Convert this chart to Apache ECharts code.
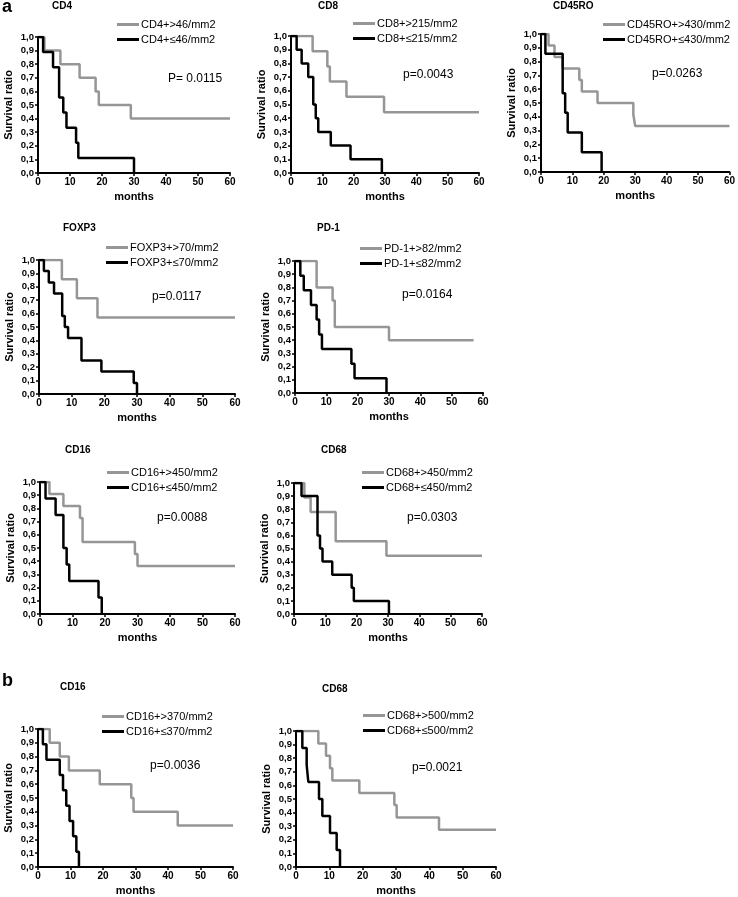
<!DOCTYPE html>
<html><head><meta charset="utf-8">
<script src="https://cdn.jsdelivr.net/npm/echarts@6/dist/echarts.min.js"></script>
<style>html,body{margin:0;padding:0;background:#fff}#c{width:738px;height:897px}</style>
</head><body><div id="c"></div>
<script>
// ---- data (months, survival ratio) ----
const xTicks = [0, 10, 20, 30, 40, 50, 60];

const cd4HiT = [0, 2, 7, 13, 18, 19, 29, 60];
const cd4HiS = [1, 0.9, 0.8, 0.7, 0.6, 0.5, 0.4, 0.4];
const cd4LoT = [0, 1.6, 4.7, 6.6, 7.9, 8.9, 11.9, 12.6, 30];
const cd4LoS = [1, 0.889, 0.778, 0.556, 0.444, 0.333, 0.222, 0.111, 0];

const cd8HiT = [0, 6.9, 11.6, 12.4, 17.7, 29.7, 60];
const cd8HiS = [1, 0.889, 0.778, 0.667, 0.556, 0.444, 0.444];
const cd8LoT = [0, 1.8, 3.4, 5.5, 7.1, 7.9, 8.7, 12.7, 19, 29];
const cd8LoS = [1, 0.9, 0.8, 0.7, 0.5, 0.4, 0.3, 0.2, 0.1, 0];

const cd45HiT = [0, 2.4, 4.3, 6.9, 12.2, 13, 18, 29.4, 30, 60];
const cd45HiS = [1, 0.917, 0.833, 0.75, 0.667, 0.583, 0.5, 0.417, 0.333, 0.333];
const cd45LoT = [0, 1.4, 6.9, 7.7, 8.5, 13, 19.3];
const cd45LoS = [1, 0.857, 0.571, 0.429, 0.286, 0.143, 0];

const foxHiT = [0, 7, 11.6, 17.9, 60];
const foxHiS = [1, 0.857, 0.714, 0.571, 0.571];
const foxLoT = [0, 1.5, 3, 4.6, 7.1, 7.9, 8.9, 13, 19.1, 29, 30];
const foxLoS = [1, 0.917, 0.833, 0.75, 0.583, 0.5, 0.417, 0.25, 0.167, 0.083, 0];

const pd1HiT = [0, 6.9, 12, 12.7, 30, 57];
const pd1HiS = [1, 0.8, 0.7, 0.5, 0.4, 0.4];
const pd1LoT = [0, 1.7, 2.8, 5.1, 6.9, 7.7, 8.6, 18, 19, 29.2];
const pd1LoS = [1, 0.889, 0.778, 0.667, 0.556, 0.444, 0.333, 0.222, 0.111, 0];

const cd16aHiT = [0, 2.9, 7.2, 12.3, 13.1, 29.2, 30, 60];
const cd16aHiS = [1, 0.909, 0.818, 0.727, 0.545, 0.455, 0.364, 0.364];
const cd16aLoT = [0, 1.7, 4.8, 7.2, 8.2, 9, 18, 19];
const cd16aLoS = [1, 0.875, 0.75, 0.5, 0.375, 0.25, 0.125, 0];

const cd68aHiT = [0, 3.3, 5.3, 13.3, 29.5, 60];
const cd68aHiS = [1, 0.889, 0.778, 0.556, 0.444, 0.444];
const cd68aLoT = [0, 2.4, 7.5, 8.3, 9.1, 12.2, 18.4, 19.1, 30.3];
const cd68aLoS = [1, 0.9, 0.6, 0.5, 0.4, 0.3, 0.2, 0.1, 0];

const cd16bHiT = [0, 3.6, 6.7, 9.5, 19, 28.7, 29.4, 43, 60];
const cd16bHiS = [1, 0.9, 0.8, 0.7, 0.6, 0.5, 0.4, 0.3, 0.3];
const cd16bLoT = [0, 1.5, 2.6, 6.7, 7.7, 8.7, 9.7, 10.8, 11.8, 12.6];
const cd16bLoS = [1, 0.889, 0.778, 0.667, 0.556, 0.444, 0.333, 0.222, 0.111, 0];

const cd68bHiT = [0, 6.7, 9, 10.2, 10.9, 19, 29.5, 30.2, 42.9, 60];
const cd68bHiS = [1, 0.909, 0.818, 0.727, 0.636, 0.545, 0.455, 0.364, 0.273, 0.273];
const cd68bLoT = [0, 1.9, 3.2, 3.7, 6.9, 7.9, 10.2, 12.2, 13.2];
const cd68bLoS = [1, 0.875, 0.75, 0.625, 0.5, 0.375, 0.25, 0.125, 0];

const titles = ['CD4', 'CD8', 'CD45RO', 'FOXP3', 'PD-1', 'CD16', 'CD68', 'CD16', 'CD68'];
const hiNames = ['CD4+>46/mm2', 'CD8+>215/mm2', 'CD45RO+>430/mm2', 'FOXP3+>70/mm2', 'PD-1+>82/mm2',
  'CD16+>450/mm2', 'CD68+>450/mm2', 'CD16+>370/mm2', 'CD68+>500/mm2'];
const loNames = ['CD4+≤46/mm2', 'CD8+≤215/mm2', 'CD45RO+≤430/mm2', 'FOXP3+≤70/mm2', 'PD-1+≤82/mm2',
  'CD16+≤450/mm2', 'CD68+≤450/mm2', 'CD16+≤370/mm2', 'CD68+≤500/mm2'];
const pValues = ['P= 0.0115', 'p=0.0043', 'p=0.0263', 'p=0.0117', 'p=0.0164', 'p=0.0088', 'p=0.0303', 'p=0.0036', 'p=0.0021'];

const hiT = [cd4HiT, cd8HiT, cd45HiT, foxHiT, pd1HiT, cd16aHiT, cd68aHiT, cd16bHiT, cd68bHiT];
const hiS = [cd4HiS, cd8HiS, cd45HiS, foxHiS, pd1HiS, cd16aHiS, cd68aHiS, cd16bHiS, cd68bHiS];
const loT = [cd4LoT, cd8LoT, cd45LoT, foxLoT, pd1LoT, cd16aLoT, cd68aLoT, cd16bLoT, cd68bLoT];
const loS = [cd4LoS, cd8LoS, cd45LoS, foxLoS, pd1LoS, cd16aLoS, cd68aLoS, cd16bLoS, cd68bLoS];

// ---- layout ----
const L = [
  {g:[38,37,192,136],  t:[52,1],   lg:[117,19],  p:[168,73]},
  {g:[291,36,188,137], t:[318,1],  lg:[353,18],  p:[403,69]},
  {g:[541,34,189,138], t:[553,1],  lg:[603,19],  p:[652,68]},
  {g:[39,260,196,134], t:[63,223], lg:[106,242], p:[152,291]},
  {g:[295,261,188,132],t:[317,223],lg:[360,243], p:[402,289]},
  {g:[40,482,195,132], t:[65,445], lg:[107,467], p:[157,512]},
  {g:[294,483,188,131],t:[321,445],lg:[362,467], p:[407,512]},
  {g:[38,729,195,138], t:[60,682], lg:[102,711], p:[150,760]},
  {g:[296,731,200,137],t:[322,684],lg:[363,710], p:[412,762]}
];

const FONT = 'Liberation Sans, Arial, Helvetica, sans-serif';
const GRAY = '#969696';
const grid = [], xAxis = [], yAxis = [], series = [], title = [], legend = [], graphic = [];

L.forEach((l, i) => {
  grid.push({left: l.g[0], top: l.g[1], width: l.g[2], height: l.g[3]});
  xAxis.push({
    gridIndex: i, type: 'value', min: xTicks[0], max: xTicks[xTicks.length - 1], interval: 10,
    axisLine: {show: true, onZero: false, lineStyle: {color: '#000', width: 2}},
    axisTick: {show: true, length: 3, lineStyle: {color: '#000', width: 1.5}},
    axisLabel: {color: '#000', fontSize: 10, fontWeight: 'bold', fontFamily: FONT, margin: 4},
    splitLine: {show: false},
    name: 'months', nameLocation: 'middle', nameGap: 18,
    nameTextStyle: {color: '#000', fontSize: 11, fontWeight: 'bold', fontFamily: FONT}
  });
  yAxis.push({
    gridIndex: i, type: 'value', min: 0, max: 1, interval: 0.1,
    axisLine: {show: true, onZero: false, lineStyle: {color: '#000', width: 2}},
    axisTick: {show: true, length: 3, lineStyle: {color: '#000', width: 1.5}},
    axisLabel: {color: '#000', fontSize: 9.5, fontWeight: 'bold', fontFamily: FONT, margin: 4,
      formatter: v => v.toFixed(1).replace('.', ',')},
    splitLine: {show: false},
    name: 'Survival ratio', nameLocation: 'middle', nameGap: 24, nameRotate: 90,
    nameTextStyle: {color: '#000', fontSize: 11, fontWeight: 'bold', fontFamily: FONT}
  });
  series.push({
    name: hiNames[i], type: 'line', step: 'end', xAxisIndex: i, yAxisIndex: i,
    data: hiT[i].map((t, k) => [t, hiS[i][k]]), symbol: 'none', animation: false,
    lineStyle: {color: GRAY, width: 2.5}, itemStyle: {color: GRAY}, z: 2
  });
  series.push({
    name: loNames[i], type: 'line', step: 'end', xAxisIndex: i, yAxisIndex: i,
    data: loT[i].map((t, k) => [t, loS[i][k]]), symbol: 'none', animation: false,
    lineStyle: {color: '#000', width: 2.5}, itemStyle: {color: '#000'}, z: 3
  });
  title.push({text: titles[i], left: l.t[0], top: l.t[1], padding: 0,
    textStyle: {fontSize: 10, fontWeight: 'bold', color: '#000', fontFamily: FONT}});
  legend.push({
    data: [hiNames[i], loNames[i]], orient: 'vertical', left: l.lg[0], top: l.lg[1], padding: 0,
    icon: 'rect', itemWidth: 22, itemHeight: 3, itemGap: 4, selectedMode: false,
    textStyle: {fontSize: 11, color: '#000', fontFamily: FONT, padding: [0, 0, 0, -3]}
  });
  graphic.push({type: 'text', left: l.p[0], top: l.p[1],
    style: {text: pValues[i], font: '12px ' + FONT, fill: '#000'}});
});
graphic.push({type: 'text', left: 2, top: -2, style: {text: 'a', font: 'bold 18px ' + FONT, fill: '#000'}});
graphic.push({type: 'text', left: 2, top: 672, style: {text: 'b', font: 'bold 18px ' + FONT, fill: '#000'}});

const chart = echarts.init(document.getElementById('c'), null, {renderer: 'canvas'});
chart.setOption({animation: false, backgroundColor: '#fff', grid, xAxis, yAxis, series, title, legend, graphic});
</script>
</body></html>
